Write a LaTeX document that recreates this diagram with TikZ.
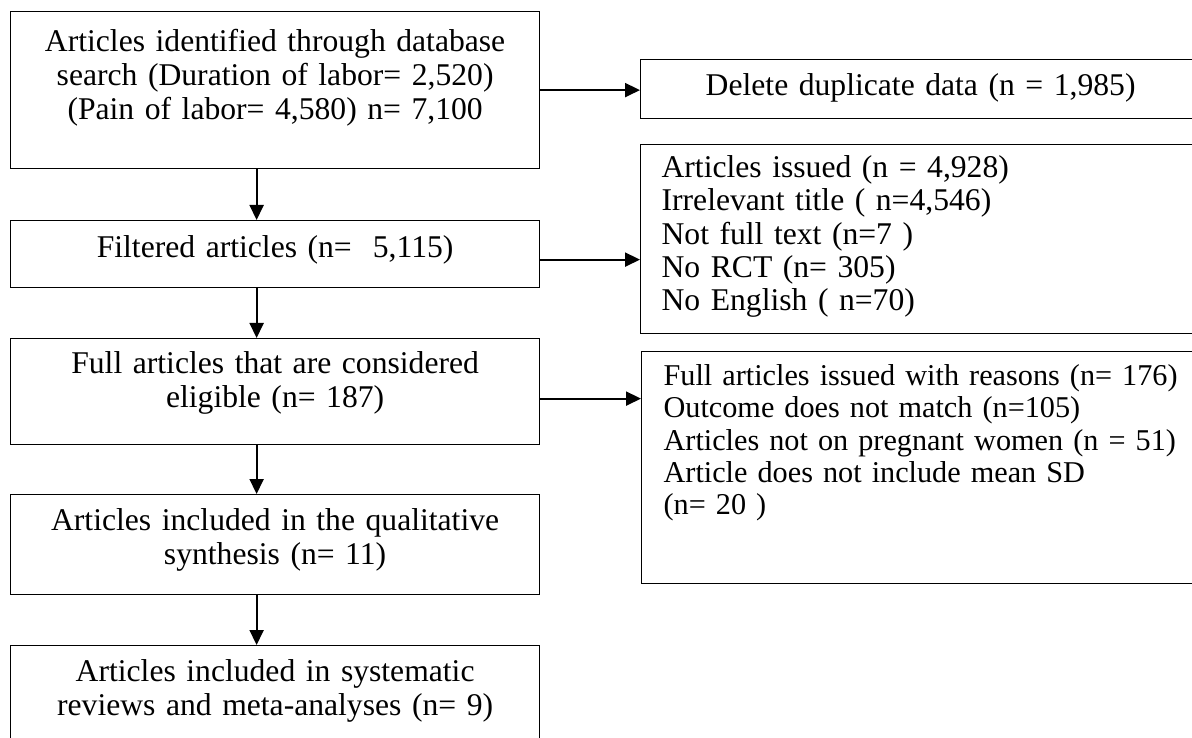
\documentclass[tikz,border=0pt]{standalone}
\usepackage{fontspec}
\setmainfont{Liberation Serif}
\usetikzlibrary{arrows.meta}

\begin{document}
\begin{tikzpicture}[
    box/.style={draw, line width=0.7pt, anchor=north west, inner ysep=0pt, font=\fontsize{18}{19.3}\selectfont},
    mainbox/.style={box, inner xsep=0.2cm, text width=10.18cm, align=center},
    sidebox/.style={box, inner xsep=0.42cm, text width=10.9cm, align=left},
    flow/.style={line width=1.2pt, -{Triangle[length=0.3cm, width=0.28cm]}}
]
    \useasboundingbox (0,0) rectangle (23.84,-14.76);
    % main column
    \node[mainbox, text height=0.80cm, text depth=2.34cm] (ident) at (0.20,-0.22) {Articles identified through database\\ search (Duration of labor= 2,520)\\ (Pain of labor= 4,580) n= 7,100};
    \node[mainbox, text height=0.74cm, text depth=0.60cm] (filt) at (0.20,-4.40) {Filtered articles (n=\ \ 5,115)};
    \node[mainbox, text height=0.70cm, text depth=1.42cm] (elig) at (0.20,-6.76) {Full articles that are considered\\ eligible (n= 187)};
    \node[mainbox, text height=0.72cm, text depth=1.28cm] (qual) at (0.20,-9.88) {Articles included in the qualitative\\ synthesis (n= 11)};
    \node[mainbox, text height=0.72cm, text depth=1.58cm] (meta) at (0.20,-12.90) {Articles included in systematic\\ reviews and meta-analyses (n= 9)};
    % side boxes
    \node[box, inner xsep=0.2cm, text width=10.8cm, align=center, text height=0.72cm, text depth=0.46cm] (dup) at (12.80,-1.18) {Delete duplicate data (n = 1,985)};
    \node[sidebox, font=\fontsize{18}{18.9}\selectfont, text height=0.66cm, text depth=3.12cm] (excl) at (12.80,-2.88) {Articles issued (n = 4,928)\\ Irrelevant title ( n=4,546)\\ Not full text (n=7 )\\ No RCT (n= 305)\\ No English ( n=70)};
    \node[sidebox, inner xsep=0.44cm, font=\fontsize{17.2}{18.4}\selectfont, text height=0.68cm, text depth=3.96cm] (reasons) at (12.82,-7.02) {Full articles issued with reasons (n= 176)\\ Outcome does not match (n=105)\\ Articles not on pregnant women (n = 51)\\ Article does not include mean SD\\ (n= 20 )};
    % arrows down
    \foreach \a/\b in {ident/filt, filt/elig, elig/qual, qual/meta}
        \draw[flow] ([xshift=-0.37cm]\a.south) -- ([xshift=-0.37cm]\b.north);
    % arrows right
    \draw[flow] (ident.east) -- (ident.east -| dup.west);
    \draw[flow] ([yshift=-0.11cm]filt.east) -- ([yshift=-0.11cm]filt.east -| excl.west);
    \draw[flow] ([yshift=-0.14cm]elig.east) -- ([yshift=-0.14cm]elig.east -| reasons.west);
\end{tikzpicture}
\end{document}
